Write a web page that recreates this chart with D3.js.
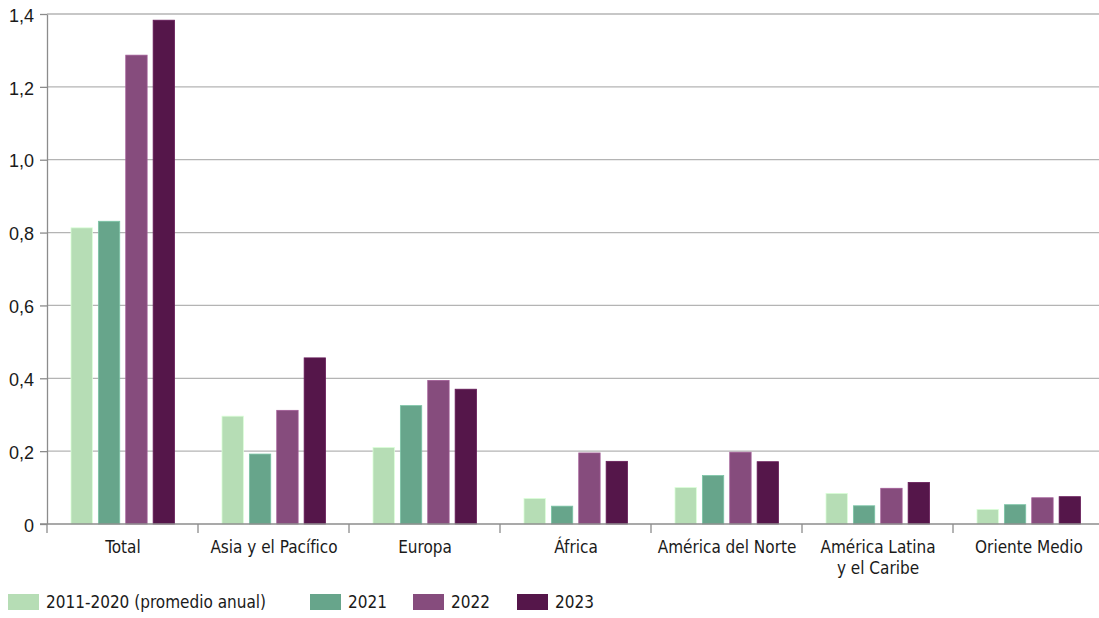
<!DOCTYPE html>
<html lang="es">
<head>
<meta charset="UTF-8">
<script src="https://d3js.org/d3.v7.min.js"></script>
<style>
body{
	margin: 0;
	background-color: white;
}
svg{
	display: block;
	font-family: "DejaVu Sans Condensed", "DejaVu Sans", sans-serif;
	font-stretch: condensed;
}
</style>
</head>
<body>
<svg width="1099" height="618"></svg>
<script>
// datos
const regiones = ["Total", "Asia y el Pacífico", "Europa", "África", "América del Norte", "América Latina|y el Caribe", "Oriente Medio"];
const series = ["2011-2020 (promedio anual)", "2021", "2022", "2023"];
const colores = ["#b6ddb5", "#67a58b", "#864c7d", "#55164a"];

const promedio = [0.813, 0.296, 0.21, 0.07, 0.10, 0.084, 0.04];
const v2021 = [0.831, 0.192, 0.325, 0.049, 0.133, 0.05, 0.053];
const v2022 = [1.287, 0.312, 0.394, 0.195, 0.197, 0.098, 0.072];
const v2023 = [1.383, 0.456, 0.37, 0.172, 0.171, 0.114, 0.075];
const yTicks = [0, 0.2, 0.4, 0.6, 0.8, 1.0, 1.2, 1.4];

const valores = [promedio, v2021, v2022, v2023];

const svg = d3.select("svg");
const mLeft = 47, mTop = 14, mBottom = 524, mRight = 1104;

const x0 = d3.scaleBand().domain(regiones).range([mLeft, mRight]).padding(0);
const x1 = d3.scaleBand().domain(series).range([24, 127.5]).paddingInner(0.22);
const y = d3.scaleLinear().domain([0, 1.4]).range([mBottom, mTop]);

const fmt = d => d === 0 ? "0" : d3.format(".1f")(d).replace(".", ",");

// rejilla y eje y
svg.append("g")
	.selectAll("line")
	.data(yTicks.filter(d => d > 0))
	.join("line")
	.attr("x1", mLeft)
	.attr("x2", 1099)
	.attr("y1", d => y(d))
	.attr("y2", d => y(d))
	.attr("stroke", "#b4b4b4")
	.attr("stroke-width", 1.3);

const yAxis = svg.append("g")
	.attr("transform", "translate(" + mLeft + ",0)")
	.call(d3.axisLeft(y).tickValues(yTicks).tickFormat(fmt).tickSize(7).tickSizeOuter(0));
yAxis.select(".domain").attr("stroke", "#8c8c8c").attr("stroke-width", 1.3);
yAxis.selectAll(".tick line").attr("stroke", "#8c8c8c").attr("stroke-width", 1.3);
yAxis.selectAll(".tick text")
	.attr("x", -13)
	.attr("dy", "0.4em")
	.attr("fill", "#1a1a1a")
	.style("font-size", "18px")
	.style("font-family", "inherit");

// barras
const grupos = svg.append("g")
	.selectAll("g")
	.data(regiones)
	.join("g")
	.attr("transform", d => "translate(" + x0(d) + ",0)");

grupos.selectAll("rect")
	.data((r, i) => series.map((s, j) => ({serie: s, valor: valores[j][i], color: colores[j]})))
	.join("rect")
	.attr("x", d => x1(d.serie))
	.attr("width", x1.bandwidth())
	.attr("y", d => y(d.valor))
	.attr("height", d => y(0) - y(d.valor))
	.attr("fill", d => d.color)
	.attr("stroke", d => d3.color(d.color).brighter(0.5))
	.attr("stroke-width", 0.8);

// eje x
svg.append("line")
	.attr("x1", mLeft - 7).attr("x2", 1099)
	.attr("y1", mBottom).attr("y2", mBottom)
	.attr("stroke", "#8c8c8c").attr("stroke-width", 1.5);

svg.append("g")
	.selectAll("line")
	.data(regiones)
	.join("line")
	.attr("x1", d => x0(d)).attr("x2", d => x0(d))
	.attr("y1", mBottom).attr("y2", mBottom + 9)
	.attr("stroke", "#8c8c8c").attr("stroke-width", 1.3);

const etiquetas = svg.append("g")
	.selectAll("text")
	.data(regiones)
	.join("text")
	.attr("x", d => x0(d) + x0.bandwidth() / 2 + 0.5)
	.attr("y", 553)
	.attr("text-anchor", "middle")
	.attr("fill", "#1a1a1a")
	.style("font-size", "17px");

etiquetas.selectAll("tspan")
	.data(d => d.split("|"))
	.join("tspan")
	.attr("x", function() { return this.parentNode.getAttribute("x"); })
	.attr("dy", (d, i) => i === 0 ? 0 : 21)
	.text(d => d);

// leyenda
const leyX = [8, 310, 413, 517];
const leyenda = svg.append("g")
	.selectAll("g")
	.data(series)
	.join("g")
	.attr("transform", (d, i) => "translate(" + leyX[i] + ",594)");

leyenda.append("rect")
	.attr("width", 31)
	.attr("height", 16)
	.attr("fill", (d, i) => colores[i]);

leyenda.append("text")
	.attr("x", 38)
	.attr("y", 14)
	.attr("fill", "#1a1a1a")
	.style("font-size", "17px")
	.text(d => d);
</script>
</body>
</html>
